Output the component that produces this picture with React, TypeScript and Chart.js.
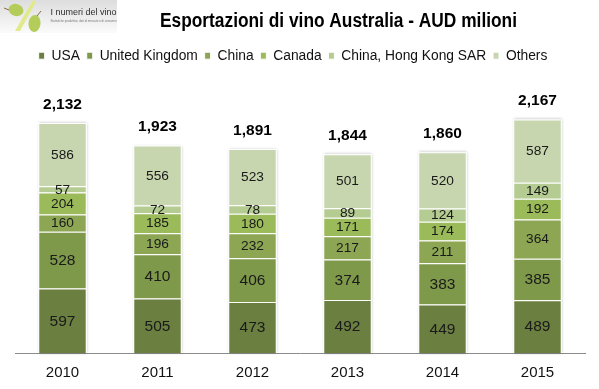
import React, { useEffect, useRef } from "react";
import { Chart, registerables } from "chart.js";

Chart.register(...registerables);

const years = ["2010", "2011", "2012", "2013", "2014", "2015"];
const usa = [597, 505, 473, 492, 449, 489];
const uk = [528, 410, 406, 374, 383, 385];
const china = [160, 196, 232, 217, 211, 364];
const canada = [204, 185, 180, 171, 174, 192];
const hongKong = [57, 72, 78, 89, 124, 149];
const others = [586, 556, 523, 501, 520, 587];
const totals = ["2,132", "1,923", "1,891", "1,844", "1,860", "2,167"];
const seriesNames = ["USA", "United Kingdom", "China", "Canada", "China, Hong Kong SAR", "Others"];
const seriesColors = ["#6b7f41", "#7f994b", "#8ca653", "#9bba59", "#b4cb92", "#c7d6ae"];
const title = "Esportazioni di vino Australia - AUD milioni";
const logoName = "I numeri del vino";
const logoTagline = "Statistiche produttive, dati di mercato e di consumo";

const sans = "'Liberation Sans', sans-serif";

const barLabels = {
  id: "barLabels",
  afterDatasetsDraw(chart: any) {
    const { ctx } = chart;
    ctx.save();
    ctx.textAlign = "center";
    ctx.textBaseline = "middle";
    ctx.fillStyle = "#1a1a1a";
    chart.data.datasets.forEach((ds: any, i: number) => {
      ctx.font = `${i < 2 ? 15.5 : 13.7}px ${sans}`;
      chart.getDatasetMeta(i).data.forEach((el: any, j: number) => {
        ctx.fillText(String(ds.data[j]), el.x, (el.y + el.base) / 2 + 0.5);
      });
    });
    const last = chart.getDatasetMeta(chart.data.datasets.length - 1);
    ctx.fillStyle = "#000";
    ctx.font = `bold 15.5px ${sans}`;
    last.data.forEach((el: any, j: number) => {
      ctx.fillText(totals[j], el.x, el.y - 18.5);
    });
    ctx.restore();
  },
};

const barShadow = {
  id: "barShadow",
  beforeDatasetsDraw(chart: any) {
    const { ctx } = chart;
    const last = chart.getDatasetMeta(chart.data.datasets.length - 1);
    ctx.save();
    ctx.shadowColor = "rgba(0,0,0,0.3)";
    ctx.shadowBlur = 3;
    ctx.shadowOffsetX = 0.5;
    ctx.fillStyle = "#fff";
    last.data.forEach((el: any) => {
      const w = el.width;
      ctx.fillRect(el.x - w / 2, el.y, w, chart.scales.y.bottom - el.y);
    });
    ctx.restore();
  },
};

const moveLegend = {
  id: "moveLegend",
  afterLayout(chart: any) {
    chart.legend.left -= 7;
    chart.legend.right -= 7;
  },
};

const chartTitle = {
  id: "chartTitle",
  afterDraw(chart: any) {
    const { ctx } = chart;
    ctx.save();
    ctx.fillStyle = "#000";
    ctx.textAlign = "center";
    ctx.textBaseline = "middle";
    ctx.font = `bold 20px ${sans}`;
    ctx.fillText(title, 338.5, 21, 357);
    ctx.restore();
  },
};

const logo = {
  id: "logo",
  beforeDraw(chart: any) {
    const { ctx } = chart;
    ctx.save();
    const g = ctx.createLinearGradient(0, 0, 0, 33);
    g.addColorStop(0, "#dddddd");
    g.addColorStop(1, "#fbfbfb");
    ctx.fillStyle = g;
    ctx.fillRect(0, 0, 117, 33);

    ctx.fillStyle = "#e0ea8c";
    ctx.beginPath();
    ctx.moveTo(33, 0);
    ctx.lineTo(36, 2);
    ctx.lineTo(20, 31);
    ctx.lineTo(15, 31);
    ctx.closePath();
    ctx.fill();

    ctx.fillStyle = "#b3cc5a";
    ctx.beginPath();
    ctx.ellipse(16, 10, 7.5, 6, 0.3, 0, Math.PI * 2);
    ctx.fill();
    ctx.beginPath();
    ctx.ellipse(34.5, 23.5, 6, 8.5, 0.1, 0, Math.PI * 2);
    ctx.fill();

    ctx.strokeStyle = "#8a6a45";
    ctx.lineWidth = 1;
    ctx.beginPath();
    ctx.moveTo(4, 8);
    ctx.lineTo(9, 10);
    ctx.moveTo(37, 16);
    ctx.lineTo(41, 11);
    ctx.stroke();

    ctx.fillStyle = "#2e2e2e";
    ctx.textAlign = "left";
    ctx.textBaseline = "middle";
    ctx.font = `9.7px ${sans}`;
    ctx.fillText(logoName, 50.5, 12.7, 66);
    ctx.fillStyle = "#777";
    ctx.font = `3.2px ${sans}`;
    ctx.fillText(logoTagline, 50.5, 21, 66);
    ctx.restore();
  },
};

export default function App() {
  const ref = useRef<HTMLCanvasElement>(null);

  useEffect(() => {
    document.body.style.margin = "0";
    document.body.style.background = "#fff";
    const seriesValues = [usa, uk, china, canada, hongKong, others];
    const chart = new Chart(ref.current!, {
      type: "bar",
      data: {
        labels: years,
        datasets: seriesValues.map((data, i) => ({
          label: seriesNames[i],
          data,
          backgroundColor: seriesColors[i],
          borderColor: "#fff",
          borderWidth: 1,
          categoryPercentage: 1,
          barPercentage: 0.51,
        })),
      },
      options: {
        responsive: false,
        animation: false,
        layout: { padding: { left: 15, right: 14, top: 42, bottom: -4 } },
        plugins: {
          title: { display: false },
          legend: {
            display: true,
            position: "top",
            labels: {
              boxWidth: 6,
              boxHeight: 7,
              color: "#111",
              font: { family: sans, size: 13.8 },
              padding: 6.8,
            },
          },
          tooltip: { enabled: false },
        },
        scales: {
          x: {
            stacked: true,
            grid: { display: false, drawTicks: false },
            border: { display: true, color: "#8c8c8c", width: 1 },
            ticks: { color: "#111", font: { family: sans, size: 15 }, padding: 11 },
          },
          y: { stacked: true, display: false, min: 0, max: 2600 },
        },
      },
      plugins: [logo, moveLegend, barShadow, barLabels, chartTitle],
    });
    return () => chart.destroy();
  }, []);

  return <canvas ref={ref} width={599} height={389} style={{ display: "block" }} />;
}
